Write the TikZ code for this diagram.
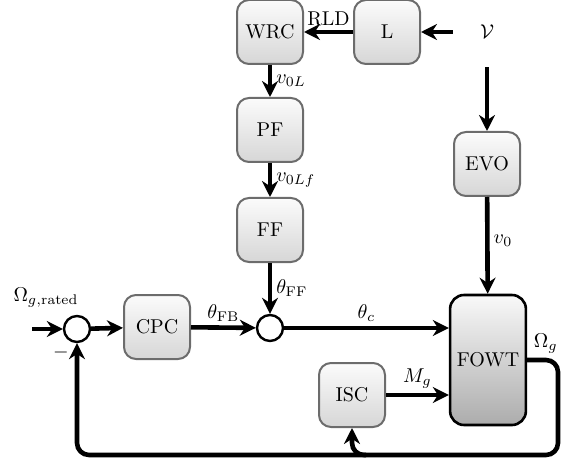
\documentclass[tikz,border=0pt]{standalone}
\usetikzlibrary{arrows.meta,calc}
\tikzset{
  blk/.style={draw=gray!85!black, line width=1pt, rounded corners=6pt,
    top color=gray!3, bottom color=gray!32, minimum width=33pt, minimum height=32pt,
    inner sep=2pt, font=\normalsize},
  plant/.style={draw=black, line width=1.3pt, rounded corners=7pt,
    top color=gray!5, bottom color=gray!65, minimum width=36.5pt, minimum height=65pt},
  sumnode/.style={circle, draw=black, line width=1.2pt, fill=white, minimum size=13pt, inner sep=0pt},
  sig/.style={line width=2.3pt, -{Stealth[length=8pt,width=8pt]}},
  wire/.style={line width=2.3pt},
  lbl/.style={font=\normalsize, inner sep=2pt}
}
\begin{document}
\begin{tikzpicture}[x=0.5pt,y=-0.5pt]
\useasboundingbox (0,0) rectangle (568,465);

% blocks
\node[blk] (wrc) at (270,32) {WRC};
\node[blk] (lid) at (387,32) {L};
\node[minimum width=34pt, minimum height=35pt, inner sep=0pt] (wind) at (487,32) {$\mathcal{V}$};
\node[blk] (pf) at (270,130) {PF};
\node[blk] (ff) at (270,230) {FF};
\node[blk] (evo) at (487,164) {EVO};
\node[blk] (cpc) at (157,327) {CPC};
\node[blk] (isc) at (352,395) {ISC};
\node[plant] (fowt) at (488,360) {FOWT};
\node[sumnode] (s1) at (77,329) {};
\node[sumnode] (s2) at (270,328) {};
\coordinate (ref) at (32,329);

% wind preview chain
\draw[sig] (wind) -- (lid);
\draw[sig] (lid) -- node[lbl, above] {RLD} (wrc);
\draw[sig] (wrc) -- node[lbl, right] {$v_{0L}$} (pf);
\draw[sig] (pf) -- node[lbl, right] {$v_{0Lf}$} (ff);
\draw[sig] (ff) -- node[lbl, right] {$\theta_{\mathrm{FF}}$} (s2);
\draw[sig] (wind) -- (evo);
\draw[sig] (evo) -- node[lbl, right, pos=0.45] {$v_0$} (fowt);

% pitch loop
\draw[sig] (ref) -- (s1);
\node[lbl] at (46,298) {$\Omega_{g,\mathrm{rated}}$};
\draw[sig] (s1) -- (cpc);
\draw[sig] (cpc) -- node[lbl, above] {$\theta_{\mathrm{FB}}$} (s2);
\draw[sig] (s2) -- node[lbl, above] {$\theta_c$} (s2 -| fowt.west);
\draw[sig] (isc) -- node[lbl, above] {$M_g$} (isc -| fowt.west);
\node[lbl] at (61,352) {$-$};

% generator speed feedback
\coordinate (fbr) at (558,455);
\draw[sig, rounded corners=6pt] (fowt.east) -- node[lbl, above, pos=0.6] {$\Omega_g$} (fowt.east -| fbr) -- (fbr) -- (s1 |- fbr) -- (s1.south);
\draw[sig, rounded corners=6pt] ($(isc.south |- fbr)+(14,0)$) -- (isc.south |- fbr) -- (isc.south);
\end{tikzpicture}
\end{document}
